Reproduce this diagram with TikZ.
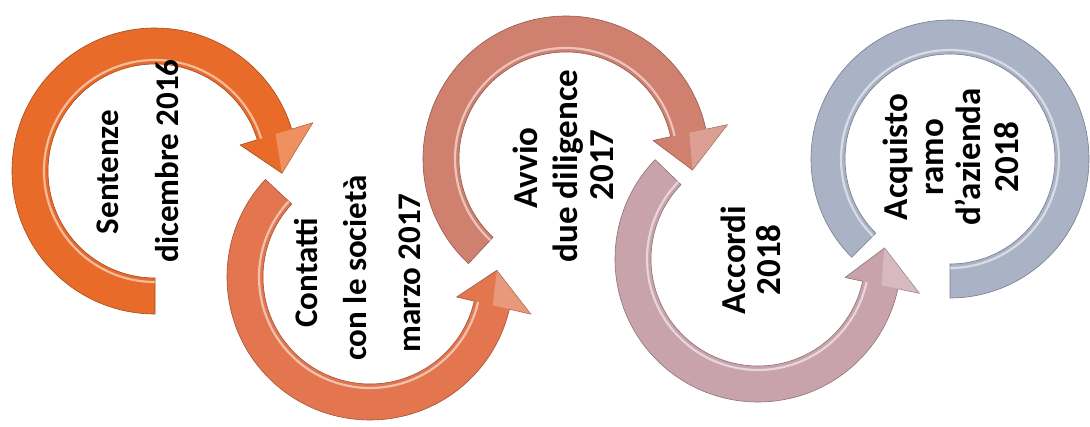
\documentclass[tikz,border=0pt]{standalone}
\usepackage{fontspec}
\setmainfont{Carlito}
\usetikzlibrary{calc}
\definecolor{cOne}{HTML}{E96B2A}
\definecolor{cTwo}{HTML}{E3764F}
\definecolor{cThree}{HTML}{D0806F}
\definecolor{cFour}{HTML}{C9A3AC}
\definecolor{cFive}{HTML}{AAB2C6}
\tikzset{
  band/.style={fill=#1, draw=#1!70!black, line width=0.6pt, line join=round},
  gleam/.style={white, opacity=.55, line width=2.2pt},
  facet/.style={fill=white, opacity=.25},
  lbl/.style={rotate=90, anchor=base, inner sep=0pt, text=black,
              font=\bfseries\fontsize{#1}{#1}\selectfont},
  lbl/.default=33
}
% #1 centre, #2 tail angle, #3 head base angle, #4 tip angle, #5 colour
\newcommand{\ringhead}[5]{%
  \path[band=#5] ($(#1)+(#2:143)$) arc[start angle=#2, end angle=#3, radius=143]
     -- ($(#1)+(#3:165)$) -- ($(#1)+(#4:127)$) -- ($(#1)+(#3:89)$)
     -- ($(#1)+(#3:107)$) arc[start angle=#3, end angle=#2, radius=107] -- cycle;
  \draw[gleam] ($(#1)+(#2:111)$) arc[start angle=#2, end angle=#3, radius=111];
  \path[facet] ($(#1)+(#3:126)$) -- ($(#1)+(#3:165)$) -- ($(#1)+(#4:127)$) -- cycle;
}
\begin{document}
\begin{tikzpicture}[x=1pt,y=1pt]
\fill[white] (0,0) rectangle (1090,426);
\useasboundingbox (0,0) rectangle (1090,426);
\coordinate (c1) at (155,255);
\coordinate (c2) at (370,149);
\coordinate (c3) at (566,267);
\coordinate (c4) at (758,167);
\coordinate (c5) at (950,267);

\ringhead{c1}{270}{17}{-1}{cOne}
\ringhead{c2}{137}{347}{363}{cTwo}
\ringhead{c3}{227}{12}{-5}{cThree}
\ringhead{c4}{136}{348}{365}{cFour}
% last ring, no head
\path[band=cFive] ($(c5)+(225:139)$) arc[start angle=225, end angle=-90, radius=139]
   -- ($(c5)+(-90:105)$) arc[start angle=-90, end angle=225, radius=105] -- cycle;
\draw[gleam] ($(c5)+(225:109)$) arc[start angle=225, end angle=-90, radius=109];

% texts
\node[lbl] (t1a) at (118,254) {Sentenze};
\node[lbl] (t1b) at (178,265) {dicembre 2016};
\node[lbl] (t2a) at (317,153) {Contatti};
\node[lbl] (t2b) at (366,158) {con le società};
\node[lbl] (t2c) at (420,153) {marzo 2017};
\node[lbl=35] (t3a) at (537,258) {Avvio};
\node[lbl=35] (t3b) at (577,260) {due diligence};
\node[lbl=35] (t3c) at (613,261) {2017};
\node[lbl=35] (t4a) at (745,166) {Accordi};
\node[lbl=35] (t4b) at (780,166) {2018};
\node[lbl=35] (t5a) at (907,269) {Acquisto};
\node[lbl=35] (t5b) at (943,269) {ramo};
\node[lbl=35] (t5c) at (980,269) {d’azienda};
\node[lbl=35] (t5d) at (1018,269) {2018};
\end{tikzpicture}
\end{document}
